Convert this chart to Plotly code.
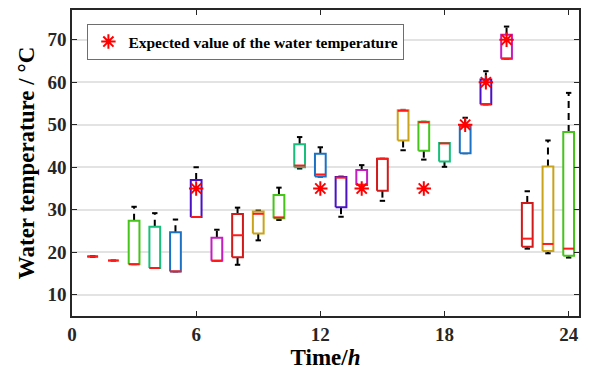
import plotly.graph_objects as go

hours = list(range(1, 25))
q1 = [19.0, 18.05, 17.2, 16.3, 15.5, 28.3, 18.0, 18.8, 24.4, 28.0, 40.0, 37.85,
      30.6, 35.8, 34.5, 46.3, 43.9, 41.35, 43.3, 54.8, 65.55, 21.3, 20.3, 19.2]
median = [19.0, 18.05, 17.2, 16.3, 15.5, 28.3, 18.0, 24.0, 29.05, 28.2, 40.4, 38.3,
          37.55, 35.9, 42.0, 53.3, 50.6, 45.6, 49.6, 54.8, 65.6, 23.2, 21.95, 20.85]
q3 = [19.0, 18.05, 27.4, 26.0, 24.7, 37.0, 23.4, 29.0, 29.6, 33.5, 45.4, 43.2,
      37.7, 39.35, 42.0, 53.4, 50.7, 45.7, 49.65, 60.65, 71.2, 31.6, 40.2, 48.3]
lower = [19.0, 18.05, 17.2, 16.3, 15.5, 28.3, 18.0, 17.05, 22.8, 27.6, 39.7, 37.8,
         28.35, 35.8, 32.1, 44.0, 41.8, 40.1, 43.3, 54.8, 65.55, 20.85, 19.75, 18.75]
upper = [19.0, 18.05, 30.7, 29.2, 27.7, 40.0, 25.3, 30.5, 29.8, 35.2, 47.1, 44.7,
         37.8, 40.5, 42.0, 53.5, 50.7, 45.7, 51.65, 62.6, 73.1, 34.35, 46.3, 57.5]

expected_hours = [6, 12, 14, 17, 19, 20, 21]
expected_values = [35.0, 35.0, 35.0, 35.0, 50.0, 60.0, 70.0]

palette = ["#D11A1A", "#C9A41A", "#45C41A", "#17BF7A", "#1B72C4", "#4A12C4", "#C41EC0"]
x_ticks = [0, 6, 12, 18, 24]
y_ticks = [10, 20, 30, 40, 50, 60, 70]

BOX_W = 0.52
CAP_W = 0.26
FONT = "Liberation Serif"

fig = go.Figure()

# whiskers (dashed, black) and caps
for h, a, b, lo, hi in zip(hours, q1, q3, lower, upper):
    xs, ys = [], []
    if hi > b:
        xs += [h, h, None]
        ys += [b, hi, None]
    if lo < a:
        xs += [h, h, None]
        ys += [a, lo, None]
    if xs:
        fig.add_trace(go.Scatter(x=xs, y=ys, mode="lines",
                                 line=dict(color="black", width=2, dash="7px,5px"),
                                 showlegend=False, hoverinfo="skip"))
    cx, cy = [], []
    for v in (lo, hi):
        cx += [h - CAP_W / 2, h + CAP_W / 2, None]
        cy += [v, v, None]
    fig.add_trace(go.Scatter(x=cx, y=cy, mode="lines",
                             line=dict(color="black", width=2),
                             showlegend=False, hoverinfo="skip"))

# boxes
for i, (h, a, b) in enumerate(zip(hours, q1, q3)):
    c = palette[i % len(palette)]
    fig.add_trace(go.Scatter(
        x=[h - BOX_W / 2, h + BOX_W / 2, h + BOX_W / 2, h - BOX_W / 2, h - BOX_W / 2],
        y=[a, a, b, b, a], mode="lines", fill="toself", fillcolor="white",
        line=dict(color=c, width=2), showlegend=False, hoverinfo="skip"))

# medians
mx, my = [], []
for h, m in zip(hours, median):
    mx += [h - BOX_W / 2, h + BOX_W / 2, None]
    my += [m, m, None]
fig.add_trace(go.Scatter(x=mx, y=my, mode="lines",
                         line=dict(color="#FF1A1A", width=2),
                         showlegend=False, hoverinfo="skip"))

# expected values
fig.add_trace(go.Scatter(
    x=expected_hours, y=expected_values, mode="markers",
    name="<b>Expected value of the water temperature</b>",
    marker=dict(symbol="asterisk-open", size=12, color="#FF0000",
                line=dict(color="#FF0000", width=2))))

axis_common = dict(showline=True, linecolor="#262626", linewidth=1.5, mirror="ticks",
                   ticks="inside", ticklen=5, tickwidth=1.2, tickcolor="#262626",
                   zeroline=False,
                   tickfont=dict(family=FONT, size=19, color="#262626", weight="bold"))

fig.update_layout(
    width=589, height=370,
    margin=dict(l=72, r=10, t=8, b=54),
    plot_bgcolor="white", paper_bgcolor="white",
    font=dict(family=FONT, color="black"),
    xaxis=dict(range=[0, 24.5], tickvals=x_ticks, ticktext=[str(t) for t in x_ticks],
               showgrid=False,
               title=dict(text="<b>Time/<i>h</i></b>", standoff=0,
                          font=dict(family=FONT, size=23, color="black")),
               **axis_common),
    yaxis=dict(range=[5, 77], tickvals=y_ticks, ticktext=[str(t) for t in y_ticks],
               showgrid=True, gridcolor="#E3E3E3", gridwidth=1.5,
               title=dict(text="<b>Water temperature / °C</b>", standoff=6,
                          font=dict(family=FONT, size=23, color="black")),
               **axis_common),
    legend=dict(x=0.03, y=0.955, xanchor="left", yanchor="top",
                bgcolor="white", bordercolor="#6E6E6E", borderwidth=1.2,
                font=dict(family=FONT, size=15.5, color="black"),
                itemwidth=30, tracegroupgap=0),
    showlegend=True,
)

fig.write_html("out.html")
